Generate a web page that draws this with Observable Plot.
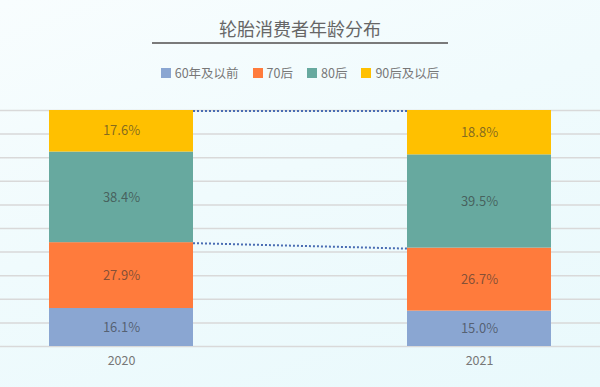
<!DOCTYPE html>
<html><head><meta charset="utf-8">
<script src="https://cdn.jsdelivr.net/npm/d3@7"></script>
<script src="https://cdn.jsdelivr.net/npm/@observablehq/plot@0.6"></script>
<style>
html,body{margin:0;padding:0;}
body{width:600px;height:387px;overflow:hidden;background:linear-gradient(160deg,#f8fdfe 0%,#f0fbfd 45%,#e9f9fc 100%);font-family:"Noto Sans CJK SC","Noto Sans",sans-serif;}
#head{height:95px;position:relative;}
#title{position:absolute;top:15px;left:0;width:600px;line-height:26px;text-align:center;font-size:18px;color:#666;}
#rule{position:absolute;top:42px;left:152px;width:296px;height:2px;background:#7a7a7a;}
#legend{position:absolute;top:64px;left:0;width:600px;line-height:18px;display:flex;justify-content:center;gap:14px;font-size:12.5px;color:#777;}
.item{display:flex;align-items:center;gap:4px;}
.sw{width:10px;height:10px;display:inline-block;}
#chart svg{display:block;background:transparent;}
</style></head>
<body>
<div id="head">
  <div id="title">轮胎消费者年龄分布</div>
  <div id="rule"></div>
  <div id="legend"></div>
</div>
<div id="chart"></div>
<script>
const years = ["2020", "2021"];
const ages = ["60年及以前", "70后", "80后", "90后及以后"];
const colors = ["#8aa6d2", "#ff7b3c", "#67a99f", "#ffc000"];
const values2020 = [16.1, 27.9, 38.4, 17.6];
const values2021 = [15.0, 26.7, 39.5, 18.8];
const gridTicks = [0, 10, 20, 30, 40, 50, 60, 70, 80, 90, 100];

const seriesByYear = [values2020, values2021];
const rows = [];
years.forEach((yr, i) => ages.forEach((a, j) => rows.push({year: yr, age: a, value: seriesByYear[i][j]})));

// levels joined by dotted lines: top of 70后 stack and top of total stack
const linkLevels = [2, 4].map(k => seriesByYear.map(v => d3.sum(v.slice(0, k))));

// legend
const legend = document.getElementById("legend");
ages.forEach((a, i) => {
  const it = document.createElement("span");
  it.className = "item";
  it.innerHTML = `<span class="sw" style="background:${colors[i]}"></span><span>${a}</span>`;
  legend.appendChild(it);
});

function dottedLinks(index, scales, values, dimensions, context) {
  const x = scales.x, y = scales.y;
  const bw = x.bandwidth ? x.bandwidth() : 0;
  const g = d3.create("svg:g");
  for (const [a, b] of linkLevels) {
    g.append("line")
      .attr("x1", x(years[0]) + bw)
      .attr("x2", x(years[1]))
      .attr("y1", y(a) + 1)
      .attr("y2", y(b) + 1)
      .attr("stroke", "#4a6db3")
      .attr("stroke-width", 2)
      .attr("stroke-dasharray", "2,2");
  }
  return g.node();
}

const chart = Plot.plot({
  width: 600,
  height: 292,
  marginTop: 15,
  marginBottom: 41,
  marginLeft: 0,
  marginRight: 0,
  style: {background: "transparent", fontFamily: "'Noto Sans CJK SC', 'Noto Sans', sans-serif"},
  x: {domain: years, paddingInner: 0.598, paddingOuter: 0.136, axis: null},
  y: {domain: [0, 100], axis: null},
  color: {domain: ages, range: colors},
  marks: [
    Plot.ruleY(gridTicks, {stroke: "#d9d9d9", strokeWidth: 1.5}),
    Plot.barY(rows, {x: "year", y: "value", fill: "age", order: null}),
    Plot.text(rows, Plot.stackY({x: "year", y: "value", z: "age", order: null,
      text: d => d.value.toFixed(1) + "%", fill: "#333", fillOpacity: 0.62, fontSize: 13})),
    dottedLinks,
    Plot.axisX({tickSize: 0, tickPadding: 10, fontSize: 12.5, color: "#777", label: null})
  ]
});
document.getElementById("chart").appendChild(chart);
</script>
</body></html>
